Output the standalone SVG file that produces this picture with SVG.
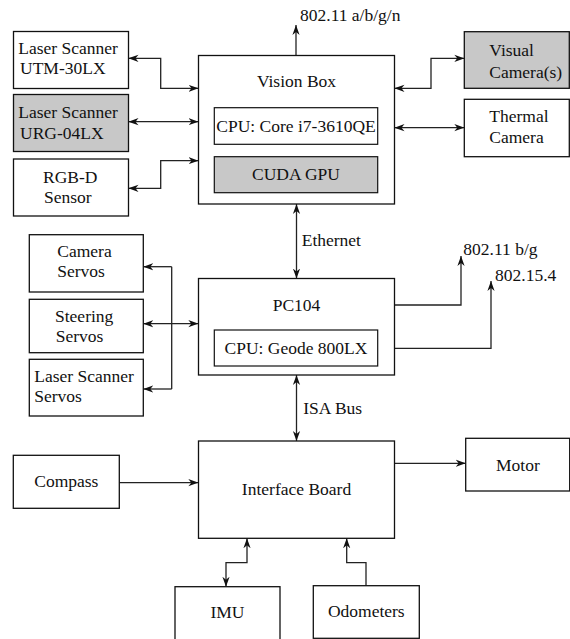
<svg xmlns="http://www.w3.org/2000/svg" width="570" height="639" viewBox="0 0 570 639">
<defs>
<style>
.box{fill:#fff;stroke:#111;stroke-width:1.3}
.inner{fill:#fff;stroke:#111;stroke-width:1.2}
.gray{fill:#c8c8c8}
text{font-family:"Liberation Serif","Times New Roman",serif;font-size:17.5px;fill:#111}
.c{text-anchor:middle}
.conn path{fill:none;stroke:#222;stroke-width:1.3}
.a2{marker-start:url(#ah);marker-end:url(#ah)}
.a1{marker-end:url(#ah)}
</style>
<marker id="ah" markerUnits="userSpaceOnUse" viewBox="0 0 10 10" markerWidth="10" markerHeight="10" refX="10" refY="5" orient="auto-start-reverse">
<path d="M10,5 L0,1.4 L3,5 L0,8.6 Z" fill="#111"/>
</marker>
</defs>
<rect width="570" height="639" fill="#fff"/>

<g class="conn">
<path class="a2" d="M128.5,58.3 H160.7 V88.3 H198.5"/>
<path class="a2" d="M128.5,121.7 H198.5"/>
<path class="a2" d="M128.5,188.3 H160.7 V160.7 H198.5"/>
<path class="a1" d="M296,55.5 V25"/>
<path class="a2" d="M394.5,88.3 H431 V58.3 H464.3"/>
<path class="a2" d="M394.5,127.7 H464.3"/>
<path class="a2" d="M296.5,204 V278.5"/>
<path class="a1" d="M394.5,305 H461 V256"/>
<path class="a1" d="M394.5,348.3 H491 V281"/>
<path d="M171.7,266.7 V389"/>
<path class="a1" d="M171.7,266.7 H143.3"/>
<path class="a1" d="M171.7,389 H143.3"/>
<path class="a2" d="M143.3,323.7 H198.3"/>
<path class="a2" d="M296.5,375 V441"/>
<path class="a1" d="M119.3,482.7 H198.3"/>
<path class="a1" d="M394.3,463.3 H465.7"/>
<path class="a2" d="M247,538.3 V562.7 H226 V586.7"/>
<path class="a1" d="M366,585.7 V562.7 H346.7 V538.3"/>
</g>

<g id="utm30lx">
<rect class="box" x="13.5" y="31.5" width="115" height="57"/>
<text x="18.3" y="53.5">Laser Scanner</text>
<text x="20" y="73.5">UTM-30LX</text>
</g>
<g id="urg04lx">
<rect class="box gray" x="13.5" y="94.5" width="115" height="57"/>
<text x="18.3" y="118.3">Laser Scanner</text>
<text x="20" y="139.3">URG-04LX</text>
</g>
<g id="rgbd">
<rect class="box" x="13.5" y="159" width="115" height="57"/>
<text x="43" y="183.3">RGB-D</text>
<text x="44" y="202.7">Sensor</text>
</g>
<g id="visionbox">
<rect class="box" x="198.5" y="55.5" width="196" height="148.5"/>
<text class="c" x="296.5" y="87.3">Vision Box</text>
<rect class="inner" x="214.3" y="107.7" width="163.4" height="36.6"/>
<text class="c" x="296" y="131.7">CPU: Core i7-3610QE</text>
<rect class="inner gray" x="214.3" y="156.7" width="163.4" height="36"/>
<text class="c" x="296" y="180">CUDA GPU</text>
</g>
<g id="wifi1">
<text x="300" y="20.5">802.11 a/b/g/n</text>
</g>
<g id="visualcam">
<rect class="box gray" x="464.3" y="31.7" width="105" height="56.6"/>
<text x="489.3" y="56">Visual</text>
<text x="489.3" y="77.7">Camera(s)</text>
</g>
<g id="thermalcam">
<rect class="box" x="464.3" y="99.3" width="105" height="57.4"/>
<text x="489.3" y="121.7">Thermal</text>
<text x="489.3" y="142.7">Camera</text>
</g>
<g id="ethernet"><text x="301.7" y="245.7">Ethernet</text></g>
<g id="pc104">
<rect class="box" x="198.5" y="278.5" width="196" height="96.5"/>
<text class="c" x="296.5" y="310.7">PC104</text>
<rect class="inner" x="214.3" y="330" width="163.4" height="36"/>
<text class="c" x="296" y="354">CPU: Geode 800LX</text>
</g>
<g id="wifi2"><text x="463.3" y="255">802.11 b/g</text></g>
<g id="zigbee"><text x="495" y="280.7">802.15.4</text></g>
<g id="cameraservos">
<rect class="box" x="29.3" y="234.7" width="114" height="57.3"/>
<text x="57.3" y="256.7">Camera</text>
<text x="57.3" y="276.7">Servos</text>
</g>
<g id="steeringservos">
<rect class="box" x="29.3" y="299.3" width="114" height="53.4"/>
<text x="55" y="321.7">Steering</text>
<text x="55.7" y="341.7">Servos</text>
</g>
<g id="laserservos">
<rect class="box" x="29.3" y="359.3" width="114" height="56.7"/>
<text x="34.3" y="381.7">Laser Scanner</text>
<text x="34.3" y="402.3">Servos</text>
</g>
<g id="isabus"><text x="303.3" y="414.3">ISA Bus</text></g>
<g id="compass">
<rect class="box" x="13.3" y="455.3" width="106" height="53"/>
<text class="c" x="66.3" y="486.7">Compass</text>
</g>
<g id="interfaceboard">
<rect class="box" x="198.5" y="441" width="196" height="97.3"/>
<text class="c" x="296.5" y="495">Interface Board</text>
</g>
<g id="motor">
<rect class="box" x="465.7" y="438.3" width="104" height="52.7"/>
<text x="496" y="470.7">Motor</text>
</g>
<g id="imu">
<rect class="box" x="175" y="586.7" width="105" height="60"/>
<text class="c" x="227.5" y="618.3">IMU</text>
</g>
<g id="odometers">
<rect class="box" x="313.3" y="585.7" width="106" height="52.6"/>
<text class="c" x="366.3" y="617.3">Odometers</text>
</g>
</svg>
